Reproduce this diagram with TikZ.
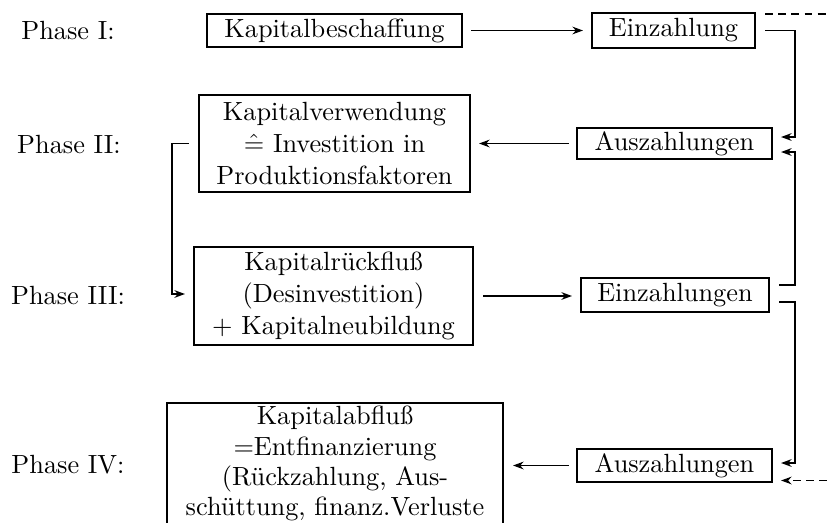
\documentclass[tikz,border=0pt]{standalone}
\usetikzlibrary{arrows.meta}
\def\pxu{0.38pt}
\begin{document}
\begin{tikzpicture}[x=0.38pt,y=-0.38pt,
  every node/.style={font=\fontsize{10}{12}\selectfont},
  box/.style={draw, line width=0.78pt, inner sep=0pt, align=center},
  lbl/.style={inner sep=0pt},
  conn/.style={line width=0.75pt},
  arr/.style={conn, -{Stealth[length=4pt,width=2.9pt,inset=1.3pt]}},
  dsh/.style={dash pattern=on 3pt off 2pt}]
\useasboundingbox (0,0) rectangle (827,523);
\clip (0,0) rectangle (827,523);
% labels
\node[lbl] (p1) at (68,31) {Phase I:};
\node[lbl] (p2) at (69,145) {Phase II:};
\node[lbl] (p3) at (68,296) {Phase III:};
\node[lbl] (p4) at (68,465) {Phase IV:};
% boxes
\node[box, minimum width=255*\pxu, minimum height=33*\pxu] (A) at (334.5,30.5) {Kapitalbeschaffung};
\node[box, minimum width=163*\pxu, minimum height=35*\pxu] (B) at (673.5,30.5) {Einzahlung};
\node[box, minimum width=271*\pxu, minimum height=97*\pxu] (C) at (334.5,143.5) {Kapitalverwendung\\$\hat{=}$ Investition in\\Produktionsfaktoren};
\node[box, minimum width=195*\pxu, minimum height=31*\pxu] (D) at (674.5,143.5) {Auszahlungen};
\node[box, minimum width=279*\pxu, minimum height=98*\pxu] (E) at (333.5,296) {Kapitalrückfluß\\(Desinvestition)\\+ Kapitalneubildung};
\node[box, minimum width=188*\pxu, minimum height=34*\pxu] (F) at (675,295) {Einzahlungen};
\node[box, minimum width=336*\pxu, inner ysep=1.2pt, anchor=north, font=\fontsize{10}{11.5}\selectfont] (G) at (335,402) {Kapitalabfluß\\=Entfinanzierung\\(Rückzahlung, Aus-\\schüttung, finanz.Verluste};
\node[box, minimum width=195*\pxu, minimum height=33*\pxu] (H) at (674.5,465.5) {Auszahlungen};
% horizontal arrows
\draw[arr] ([xshift=8*\pxu]A.east) -- ([xshift=-8*\pxu]A.east -| B.west);
\draw[arr] ([xshift=-7*\pxu]D.west) -- ([xshift=8*\pxu]D.west -| C.east);
\draw[arr] ([xshift=9*\pxu]E.east) -- ([xshift=-8*\pxu]E.east -| F.west);
\draw[arr] ([xshift=-7*\pxu]H.west) -- ([xshift=9*\pxu]H.west -| G.east);
% right bus
\coordinate (rbus) at (795,0);
\coordinate (redge) at (827,0);
\coordinate (b1) at ([xshift=9*\pxu]B.east);
\coordinate (d1) at ([xshift=8*\pxu,yshift=6.5*\pxu]D.east);
\coordinate (d2) at ([xshift=8*\pxu,yshift=-8.5*\pxu]D.east);
\coordinate (f1) at ([xshift=9*\pxu,yshift=10*\pxu]F.east);
\coordinate (f2) at ([xshift=9*\pxu,yshift=-7*\pxu]F.east);
\coordinate (h1) at ([xshift=8*\pxu,yshift=2.5*\pxu]H.east);
\coordinate (h2) at ([xshift=8*\pxu,yshift=-15*\pxu]H.east);
\coordinate (bt) at ([xshift=9*\pxu,yshift=-2*\pxu]B.north east);
\draw[arr] (b1) -- (b1 -| rbus) -- (d1 -| rbus) -- (d1);
\draw[arr] (f1) -- (f1 -| rbus) -- (d2 -| rbus) -- (d2);
\draw[arr] (f2) -- (f2 -| rbus) -- (h1 -| rbus) -- (h1);
\draw[conn, dsh] (bt) -- (bt -| redge);
\draw[arr, dsh] (h2 -| redge) -- (h2);
% left bus
\coordinate (lbus) at (172,0);
\coordinate (c1) at ([xshift=-9*\pxu]C.west);
\coordinate (e1) at ([xshift=-8*\pxu,yshift=2*\pxu]E.west);
\draw[arr] (c1) -- (c1 -| lbus) -- (e1 -| lbus) -- (e1);
\end{tikzpicture}
\end{document}
